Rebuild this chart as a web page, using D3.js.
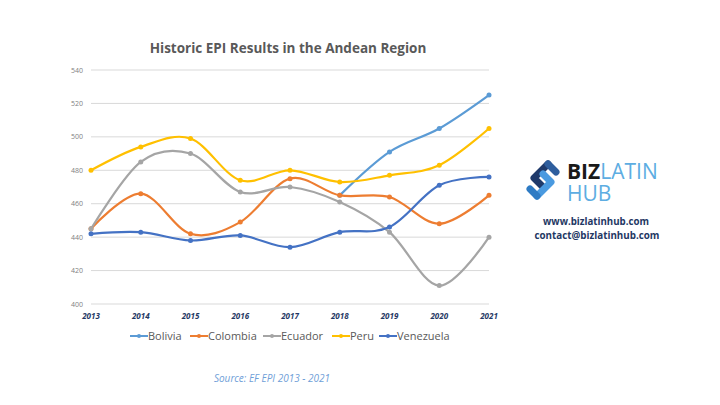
<!DOCTYPE html>
<html><head><meta charset="utf-8">
<script src="https://cdn.jsdelivr.net/npm/d3@7"></script>
<style>body{margin:0;background:#fff;}svg{display:block;font-family:"Open Sans",sans-serif;}</style>
</head><body><svg id="c" width="720" height="405"></svg>
<script>
const years = [2013,2014,2015,2016,2017,2018,2019,2020,2021];
const yTicks = [400,420,440,460,480,500,520,540];
const bolivia   = [null,null,null,null,null,465,491,505,525];
const colombia  = [445,466,442,449,475,465,464,448,465];
const ecuador   = [445,485,490,467,470,461,443,411,440];
const peru      = [480,494,499,474,480,473,477,483,505];
const venezuela = [442,443,438,441,434,443,446,471,476];
const seriesNames = ["Bolivia","Colombia","Ecuador","Peru","Venezuela"];
const seriesColors = ["#5B9BD5","#ED7D31","#A5A5A5","#FFC000","#4472C4"];
const seriesData = [bolivia,colombia,ecuador,peru,venezuela];

const svg = d3.select("#c");
const x = d3.scalePoint().domain(years).range([91,489]);
const y = d3.scaleLinear().domain([400,540]).range([304,70]);

svg.append("text").attr("x",288).attr("y",53).attr("text-anchor","middle")
  .attr("font-size",13.5).attr("font-weight",700).attr("fill","#595959")
  .text("Historic EPI Results in the Andean Region");

// grid
svg.append("g").selectAll("line").data(yTicks).join("line")
  .attr("x1",91).attr("x2",489).attr("y1",d=>y(d)).attr("y2",d=>y(d))
  .attr("stroke","#d9d9d9").attr("stroke-width",1);
svg.append("g").selectAll("text").data(yTicks).join("text")
  .attr("x",83).attr("y",d=>y(d)+2.5).attr("text-anchor","end")
  .attr("font-size",7).attr("fill","#7f7f7f").text(d=>d);

// x labels
svg.append("g").selectAll("text").data(years).join("text")
  .attr("x",d=>x(d)).attr("y",319).attr("text-anchor","middle")
  .attr("font-size",8).attr("font-weight",700).attr("font-style","italic")
  .attr("fill","#1F3864").text(d=>d);

const line = d3.line().defined(d=>d[1]!=null).x(d=>x(d[0])).y(d=>y(d[1])).curve(d3.curveCardinal.tension(0));
seriesData.forEach((s,i)=>{
  const pts = years.map((yr,j)=>[yr,s[j]]);
  svg.append("path").attr("d",line(pts)).attr("fill","none")
    .attr("stroke",seriesColors[i]).attr("stroke-width",2.2).attr("stroke-linecap","round");
  svg.append("g").selectAll("circle").data(pts.filter(p=>p[1]!=null)).join("circle")
    .attr("cx",p=>x(p[0])).attr("cy",p=>y(p[1])).attr("r",2.5).attr("fill",seriesColors[i]);
});

// legend
const legX = [130,190,263,332,379];
seriesNames.forEach((n,i)=>{
  const g = svg.append("g").attr("transform",`translate(${legX[i]},336)`);
  g.append("line").attr("x1",0).attr("x2",18).attr("y1",0).attr("y2",0).attr("stroke",seriesColors[i]).attr("stroke-width",2);
  g.append("circle").attr("cx",9).attr("cy",0).attr("r",2).attr("fill",seriesColors[i]);
  g.append("text").attr("x",18).attr("y",4).attr("font-size",11).attr("fill","#595959").text(n);
});

svg.append("text").attr("x",272).attr("y",382).attr("text-anchor","middle")
  .attr("font-size",10).attr("font-style","italic").attr("fill","#6FA0D8")
  .text("Source: EF EPI 2013 - 2021");

// logo
const logo = svg.append("g");
logo.append("path").attr("d","M548,164 L534,178 L542,186")
  .attr("fill","none").attr("stroke","#1F3A6B").attr("stroke-width",7).attr("stroke-linejoin","round").attr("stroke-linecap","round");
logo.append("path").attr("d","M537,196 L551,182 L543,174")
  .attr("fill","none").attr("stroke","#4A9AE0").attr("stroke-width",7).attr("stroke-linejoin","round").attr("stroke-linecap","round");
logo.append("path").attr("d","M548,164 L556,172")
  .attr("fill","none").attr("stroke","#2E5E9E").attr("stroke-width",7).attr("stroke-linecap","round");
logo.append("path").attr("d","M537,196 L530,189")
  .attr("fill","none").attr("stroke","#2E7BC4").attr("stroke-width",7).attr("stroke-linecap","round");
const t1 = logo.append("text").attr("x",567).attr("y",178.5).attr("font-size",21).attr("font-family","Open Sans, sans-serif");
t1.append("tspan").attr("font-weight",700).attr("fill","#1a1a1a").text("BIZ");
t1.append("tspan").attr("font-weight",400).attr("fill","#5DADE2").text("LATIN");
logo.append("text").attr("x",567).attr("y",200.5).attr("font-size",21).attr("fill","#5DADE2").text("HUB");
logo.append("text").attr("x",596).attr("y",225).attr("text-anchor","middle").attr("font-size",9.7).attr("font-weight",700).attr("fill","#1F3864").text("www.bizlatinhub.com");
logo.append("text").attr("x",597).attr("y",238.5).attr("text-anchor","middle").attr("font-size",9.8).attr("font-weight",700).attr("fill","#1F3864").text("contact@bizlatinhub.com");
</script></body></html>
